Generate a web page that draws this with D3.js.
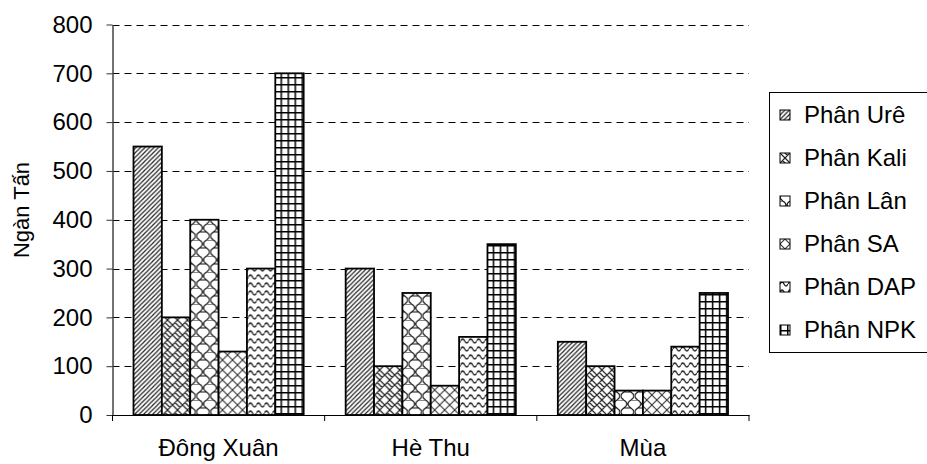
<!DOCTYPE html>
<html>
<head>
<meta charset="utf-8">
<script src="https://cdn.jsdelivr.net/npm/d3@7"></script>
<style>
  body { margin: 0; background: #fff; }
  svg text { font-family: "Liberation Sans", Arial, sans-serif; fill: #000; }
</style>
</head>
<body>
<div id="chart"></div>
<script>
// data
const seasons = ['Đông Xuân', 'Hè Thu', 'Mùa'];
const fertilizers = ['Phân Urê', 'Phân Kali', 'Phân Lân', 'Phân SA', 'Phân DAP', 'Phân NPK'];
const ure = [550, 300, 150];
const kali = [200, 100, 100];
const lan = [400, 250, 50];
const sa = [130, 60, 50];
const dap = [300, 160, 140];
const npk = [700, 350, 250];
const yTicks = [0, 100, 200, 300, 400, 500, 600, 700, 800];
const yTitle = 'Ngàn Tấn';

const seriesValues = [ure, kali, lan, sa, dap, npk];
const patternIds = ['p-ure', 'p-kali', 'p-lan', 'p-sa', 'p-dap', 'p-npk'];

const config = {
  width: 927,
  height: 464,
  plotLeft: 112.5,
  plotRight: 749,
  plotTop: 24.5,
  plotBottom: 415,
  groupPad: 21,
  fontSize: 24
};

const svg = d3.select('#chart').append('svg')
    .attr('width', config.width)
    .attr('height', config.height);

// hatch patterns, roughly like the old excel fills
const defs = svg.append('defs');
const pat = (id, w, h) => {
  let p = defs.append('pattern')
      .attr('id', id)
      .attr('patternUnits', 'userSpaceOnUse')
      .attr('width', w)
      .attr('height', h);
  p.append('rect').attr('width', w).attr('height', h).attr('fill', '#fff');
  return p;
};

pat('p-ure', 4.5, 4.5).append('path')
    .attr('d', 'M-1,1 L1,-1 M0,4.5 L4.5,0 M3.5,5.5 L5.5,3.5')
    .attr('stroke', '#222').attr('stroke-width', 1.2);

pat('p-kali', 10, 10).append('path')
    .attr('d', 'M0,5 L5,0 M5,10 L10,5 M5,0 L7.5,2.5 M2.5,7.5 L5,10 M0,5 L2.5,7.5 M7.5,2.5 L10,5 M2.5,2.5 L5,5 M5,5 L7.5,7.5')
    .attr('stroke', '#222').attr('stroke-width', 1.2).attr('fill', 'none');

pat('p-lan', 14, 16).append('path')
    .attr('d', 'M3,0 Q9,4 3,8 Q-3,12 3,16 M10,8 Q16,12 10,16 M10,0 Q4,4 10,8 M3,8 L10,8 M-4,0 L3,0 M10,0 L17,0')
    .attr('stroke', '#111').attr('stroke-width', 1.2).attr('fill', 'none');

pat('p-sa', 10, 10).append('path')
    .attr('d', 'M0,0 L10,10 M10,0 L0,10')
    .attr('stroke', '#333').attr('stroke-width', 1.1);

pat('p-dap', 8, 8).append('path')
    .attr('d', 'M0,5 Q2,1 4,5 T8,5')
    .attr('stroke', '#222').attr('stroke-width', 1.3).attr('fill', 'none');

pat('p-npk', 7, 7).append('path')
    .attr('d', 'M0,0.5 H7 M0.5,0 V7')
    .attr('stroke', '#000').attr('stroke-width', 2);

// scales
const x0 = d3.scaleBand()
    .domain(seasons)
    .range([config.plotLeft, config.plotRight])
    .padding(0);

const x1 = d3.scaleBand()
    .domain(fertilizers)
    .range([config.groupPad, x0.bandwidth() - config.groupPad])
    .padding(0);

const y = d3.scaleLinear()
    .domain([0, 800])
    .range([config.plotBottom, config.plotTop]);

// dashed gridlines
svg.append('g')
    .attr('class', 'grid')
  .selectAll('line')
    .data(yTicks.filter(d => d > 0))
  .join('line')
    .attr('x1', config.plotLeft)
    .attr('x2', config.plotRight)
    .attr('y1', d => Math.round(y(d)) + 0.5)
    .attr('y2', d => Math.round(y(d)) + 0.5)
    .attr('stroke', '#000')
    .attr('stroke-dasharray', '7,5');

// bars
const rows = seasons.map((s, i) => ({season: s, values: fertilizers.map((f, j) => ({key: f, idx: j, value: seriesValues[j][i]}))}));

svg.append('g')
  .selectAll('g')
    .data(rows)
  .join('g')
    .attr('transform', d => `translate(${x0(d.season)},0)`)
  .selectAll('rect')
    .data(d => d.values)
  .join('rect')
    .attr('x', d => x1(d.key))
    .attr('y', d => y(d.value))
    .attr('width', x1.bandwidth())
    .attr('height', d => y(0) - y(d.value))
    .attr('fill', d => `url(#${patternIds[d.idx]})`)
    .attr('stroke', '#000')
    .attr('stroke-width', 1.8);

// y axis
const yAxis = svg.append('g')
    .attr('transform', `translate(${config.plotLeft},0)`)
    .call(d3.axisLeft(y).tickValues(yTicks).tickSize(6).tickPadding(14).tickSizeOuter(0));
yAxis.select('.domain').attr('stroke', '#444').attr('stroke-width', 1.5);
yAxis.selectAll('.tick line').attr('stroke', '#333');
yAxis.selectAll('text')
    .style('font-size', config.fontSize + 'px')
    .attr('font-family', null);

// x axis
const xAxis = svg.append('g')
    .attr('transform', `translate(0,${config.plotBottom})`)
    .call(d3.axisBottom(x0).tickSize(0).tickPadding(24).tickSizeOuter(0));
xAxis.select('.domain').attr('stroke', '#000').attr('stroke-width', 1.2);
xAxis.selectAll('text')
    .style('font-size', config.fontSize + 'px')
    .attr('font-family', null);

// category separators below the baseline
svg.append('g')
  .selectAll('line')
    .data(seasons.map(s => x0(s)).concat([x0.range()[1]]))
  .join('line')
    .attr('x1', d => d)
    .attr('x2', d => d)
    .attr('y1', config.plotBottom)
    .attr('y2', config.plotBottom + 6)
    .attr('stroke', '#000');

// axis title
svg.append('text')
    .attr('transform', `translate(29,210) rotate(-90)`)
    .attr('text-anchor', 'middle')
    .style('font-size', (config.fontSize - 2) + 'px')
    .text(yTitle);

// legend
const legendTop = 92;
const legendStep = 43;
const legend = svg.append('g')
    .attr('class', 'legend');

legend.append('rect')
    .attr('x', 769.5)
    .attr('y', legendTop + 0.5)
    .attr('width', 160)
    .attr('height', legendStep * fertilizers.length + 2)
    .attr('fill', '#fff')
    .attr('stroke', '#000');

const items = legend.selectAll('.legend-item')
    .data(fertilizers)
  .join('g')
    .attr('class', 'legend-item')
    .attr('transform', (d, i) => `translate(780,${legendTop + 23 + i * legendStep})`);

items.append('rect')
    .attr('x', 0)
    .attr('y', -5)
    .attr('width', 10)
    .attr('height', 10)
    .attr('fill', (d, i) => `url(#${patternIds[i]})`)
    .attr('stroke', '#000');

items.append('text')
    .attr('x', 24)
    .attr('dy', '0.35em')
    .style('font-size', config.fontSize + 'px')
    .text(d => d);
</script>
</body>
</html>
